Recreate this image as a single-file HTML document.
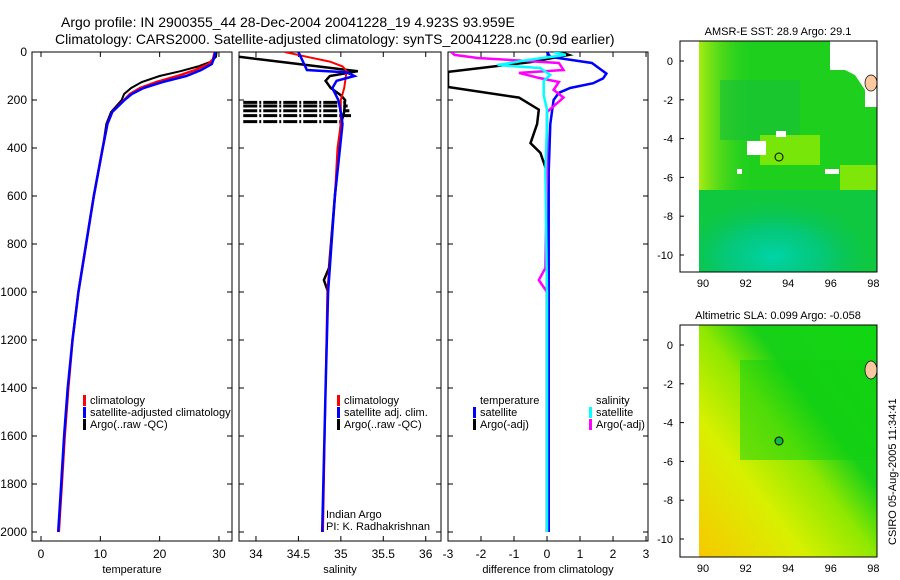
<!DOCTYPE html>
<html><head><meta charset="utf-8"><style>
body{margin:0;background:#fff;}
svg{display:block;font-family:"Liberation Sans",sans-serif;}
</style></head><body>
<svg id="c" width="900" height="580" viewBox="0 0 900 580">
<defs>
<radialGradient id="tealg" cx="0.42" cy="0.85" r="0.55"><stop offset="0" stop-color="#00d4a8"/><stop offset="0.5" stop-color="#00c890" stop-opacity="0.7"/><stop offset="1" stop-color="#00c060" stop-opacity="0"/></radialGradient>
<linearGradient id="leftg" x1="0" x2="1" y1="0" y2="0"><stop offset="0" stop-color="#a8ec10"/><stop offset="1" stop-color="#20d020" stop-opacity="0"/></linearGradient>
<linearGradient id="slag" x1="0" y1="1" x2="1" y2="0"><stop offset="0" stop-color="#f8c800"/><stop offset="0.3" stop-color="#d8f000"/><stop offset="0.5" stop-color="#90e800"/><stop offset="0.65" stop-color="#18d018"/><stop offset="1" stop-color="#10d810"/></linearGradient>
</defs>
<text x="61" y="27" font-size="14">Argo profile: IN 2900355_44 28-Dec-2004 20041228_19 4.923S 93.959E</text>
<text x="55" y="44" font-size="14">Climatology: CARS2000. Satellite-adjusted climatology: synTS_20041228.nc (0.9d earlier)</text>
<g id="g"></g>
<!-- top map -->
<g>
<rect x="699" y="41" width="178" height="231" fill="#1ecf1e"/>
<rect x="699" y="41" width="55" height="200" fill="url(#leftg)"/>
<rect x="699" y="190" width="178" height="82" fill="#10c840"/>
<rect x="699" y="170" width="178" height="102" fill="url(#tealg)"/>
<rect x="720" y="80" width="80" height="60" fill="#18c038" opacity="0.6"/>
<rect x="760" y="135" width="60" height="30" fill="#a0f000" opacity="0.7"/>
<rect x="840" y="165" width="37" height="25" fill="#a8f000" opacity="0.7"/>
<polygon points="830,41 877,41 877,107 865,107 865,90 855,75 845,70 830,70" fill="#fff"/>
<rect x="747" y="141" width="19" height="14" fill="#fff"/>
<rect x="776" y="131" width="10" height="6" fill="#fff"/>
<rect x="825" y="169" width="14" height="5" fill="#fff"/>
<rect x="737" y="169" width="5" height="5" fill="#fff"/>
<ellipse cx="871" cy="83" rx="6" ry="8" fill="#fcc8a0" stroke="#000" stroke-width="0.7"/>
<circle cx="779" cy="157" r="4" fill="none" stroke="#000"/>
<rect x="680" y="41" width="197" height="231" fill="none" stroke="#000"/>
<text x="778" y="35" font-size="11" text-anchor="middle">AMSR-E SST: 28.9 Argo: 29.1</text>
</g>
<!-- bottom map -->
<g>
<rect x="699" y="325" width="178" height="232" fill="url(#slag)"/>
<rect x="740" y="360" width="137" height="100" fill="#10d010" opacity="0.5"/>
<ellipse cx="871" cy="370" rx="6" ry="9" fill="#fcc8a0" stroke="#000" stroke-width="0.7"/>
<circle cx="779" cy="441" r="4" fill="#10b840" stroke="#000"/>
<rect x="680" y="325" width="197" height="232" fill="none" stroke="#000"/>
<text x="778" y="319" font-size="11" text-anchor="middle">Altimetric SLA: 0.099 Argo: -0.058</text>
<text transform="translate(896,545) rotate(-90)" font-size="11">CSIRO 05-Aug-2005 11:34:41</text>
</g>
</svg>
<script>
// ---- data ----
const depthTicks=[0,200,400,600,800,1000,1200,1400,1600,1800,2000];
const tempTicks=[0,10,20,30];
const salTicks=[34,34.5,35,35.5,36];
const salTickLabels=["34","34.5","35","35.5","36"];
const diffTicks=[-3,-2,-1,0,1,2,3];
const tClimDepth=[0,30,50,75,100,125,150,175,200,250,300,400,600,800,1000,1200,1400,1600,1800,2000];
const tClim=[29.3,29.0,28.2,26.0,23.0,19.5,16.7,15.0,14.0,12.0,11.2,10.4,8.9,7.6,6.3,5.3,4.6,4.0,3.5,3.0];
const tSat=[29.4,29.1,28.8,27.0,24.5,20.5,17.3,15.3,14.1,12.0,11.2,10.4,8.9,7.6,6.3,5.3,4.5,3.9,3.4,2.9];
const tArgoDepth=[0,20,40,60,80,100,125,150,175,200,250,300,400,600];
const tArgo=[29.6,29.5,28.7,26.5,23.5,20.0,17.0,15.2,14.0,13.6,11.8,11.0,10.4,8.9];
const sClimDepth=[0,20,40,60,80,100,150,200,300,400,600,1000,1400,2000];
const sClim=[34.34,34.6,34.87,35.02,35.07,35.06,35.04,35.0,35.0,34.96,34.93,34.84,34.82,34.79];
const sSatDepth=[0,30,60,75,85,100,120,150,200,250,300,400,600,1000,1400,2000];
const sSat=[34.5,34.54,34.58,34.6,35.07,35.16,34.95,34.9,34.97,35.0,35.02,34.99,34.93,34.85,34.82,34.78];
const sArgoDepth=[20,50,80,100,120,150,180,200,250,300,400,600,900,950,1000];
const sArgo=[33.8,34.5,35.2,34.87,34.82,34.88,35.0,35.05,35.04,35.0,34.98,34.93,34.86,34.8,34.85];
const spikeDepth=[210,225,245,265,290];
const spikeSal=[35.05,35.08,35.1,35.12,35.0];
const dDepth=[0,20,46,70,90,110,130,150,170,200,300,500,1000,2000];
const dTempSat=[0,0.1,1.36,1.6,1.8,1.7,1.4,0.7,0.36,0.2,0.1,0.05,0.05,0.05];
const dTempArgoDepth=[0,12,42,83,110,146,190,240,300,380,420,500,1000,2000];
const dTempArgo=[0.4,0.66,-0.5,-3,-3,-3,-0.85,-0.25,-0.3,-0.5,-0.2,0,0,0];
const dSalSatDepth=[0,12,33,54,67,96,120,180,240,300,500,1000,2000];
const dSalSat=[0.2,0.57,-0.55,-1.5,-0.2,0.1,-0.1,-0.1,0,0,-0.05,0,0];
const dSalArgoDepth=[0,12,25,46,75,87,108,125,158,190,250,500,900,950,1000,2000];
const dSalArgo=[-2.9,-2.8,-2.1,0.36,0.5,-0.85,-0.25,0.36,0.2,0.5,0,0,-0.05,-0.25,0,0];

const NS="http://www.w3.org/2000/svg";
const g=document.getElementById('g');
function el(t,a,p){const e=document.createElementNS(NS,t);for(const k in a)e.setAttribute(k,a[k]);(p||g).appendChild(e);return e;}
const yD=d=>52+d*0.24;
const panels=[
 {x0:32,x1:232,lo:-1.52,hi:32.2,ticks:tempTicks,labels:tempTicks.map(String),title:"temperature",name:"temperature-panel"},
 {x0:239,x1:441,lo:33.8,hi:36.18,ticks:salTicks,labels:salTickLabels,title:"salinity",name:"salinity-panel"},
 {x0:448,x1:648,lo:-3,hi:3.06,ticks:diffTicks,labels:diffTicks.map(String),title:"difference from climatology",name:"difference-panel"}];
panels.forEach((p,i)=>{
 p.sx=v=>p.x0+(v-p.lo)/(p.hi-p.lo)*(p.x1-p.x0);
 const pg=el('g',{});
 
 
 p.g=pg;
 const fr=el('rect',{x:p.x0,y:52,width:p.x1-p.x0,height:489,fill:'none',stroke:'#000','stroke-width':1},pg);
 
 
 p.ticks.forEach((t,j)=>{
  const x=p.sx(t);
  el('line',{x1:x,x2:x,y1:541,y2:536,stroke:'#000'},pg);
  el('line',{x1:x,x2:x,y1:52,y2:57,stroke:'#000'},pg);
  const tx=el('text',{x:x,y:558,'font-size':12,'text-anchor':'middle'},pg);
  tx.textContent=p.labels[j];
  
  
 });
 const tt=el('text',{x:(p.x0+p.x1)/2,y:573,'font-size':11,'text-anchor':'middle'},pg);
 tt.textContent=p.title;
 
 
 depthTicks.forEach(d=>{
  const y=yD(d);
  el('line',{x1:p.x0,x2:p.x0+5,y1:y,y2:y,stroke:'#000'},pg);
  el('line',{x1:p.x1,x2:p.x1-5,y1:y,y2:y,stroke:'#000'},pg);
  if(i==0){const t=el('text',{x:27,y:y+4,'font-size':12,'text-anchor':'end'},pg);t.textContent=d;
   
   }
 });
});
function series(p,dep,val,col,w,name){
 const cp='cp'+p.x0;
 if(!document.getElementById(cp)){const c=el('clipPath',{id:cp},p.g);el('rect',{x:p.x0,y:52,width:p.x1-p.x0,height:489},c);}
 const pts=dep.map((d,k)=>p.sx(val[k]).toFixed(1)+','+yD(d).toFixed(1)).join(' ');
 const l=el('polyline',{points:pts,fill:'none',stroke:col,'stroke-width':w,'clip-path':'url(#'+cp+')'},p.g);
 
 
}
const [P1,P2,P3]=panels;
series(P1,tArgoDepth,tArgo,'#000',2,'temp-argo-line');
series(P1,tClimDepth,tClim,'#f00',2.5,'temp-climatology-line');
series(P1,tClimDepth,tSat,'#00f',2.5,'temp-satellite-line');
spikeDepth.forEach((d,k)=>{
 const s=el('line',{x1:P2.sx(33.85),x2:P2.sx(spikeSal[k]),y1:yD(d),y2:yD(d),stroke:'#000','stroke-width':3,'stroke-dasharray':'14 2 2 2'},P2.g);
 
 
});
series(P2,sArgoDepth,sArgo,'#000',2.5,'sal-argo-line');
series(P2,sClimDepth,sClim,'#f00',2,'sal-climatology-line');
series(P2,sSatDepth,sSat,'#00f',2.5,'sal-satellite-line');
series(P3,dTempArgoDepth,dTempArgo,'#000',2.5,'diff-temp-argo-line');
series(P3,dDepth,dTempSat,'#00f',2.5,'diff-temp-satellite-line');
series(P3,dSalArgoDepth,dSalArgo,'#f0f',2.5,'diff-sal-argo-line');
series(P3,dSalSatDepth,dSalSat,'#0ff',2.5,'diff-sal-satellite-line');
function legend(x,y,items,name){
 items.forEach((it,k)=>{
  if(it[1]){const m=el('rect',{x:x,y:y+k*12-9,width:3,height:11,fill:it[1]});
   
   }
  const t=el('text',{x:x+7,y:y+k*12,'font-size':11});t.textContent=it[0];
  
  
 });
}
legend(83,404,[["climatology","#f00"],["satellite-adjusted climatology","#00f"],["Argo(..raw -QC)","#000"]],'temp-legend-entry');
legend(337,404,[["climatology","#f00"],["satellite adj. clim.","#00f"],["Argo(..raw -QC)","#000"]],'sal-legend-entry');
legend(473,404,[["temperature",null],["satellite","#00f"],["Argo(-adj)","#000"]],'diff-temp-legend-entry');
legend(589,404,[["salinity",null],["satellite","#0ff"],["Argo(-adj)","#f0f"]],'diff-sal-legend-entry');
const c1=el('text',{x:326,y:518,'font-size':11});c1.textContent="Indian Argo";


const c2=el('text',{x:326,y:530,'font-size':11});c2.textContent="PI: K. Radhakrishnan";


// map axes
const mapLon=[90,92,94,96,98];
const mapLat=[0,-2,-4,-6,-8,-10];
[[41,272,61],[325,557,345]].forEach(([top,bot,y0],m)=>{
 mapLon.forEach(lo=>{const x=703+(lo-90)*21.3;
  el('line',{x1:x,x2:x,y1:bot,y2:bot-4,stroke:'#000'});el('line',{x1:x,x2:x,y1:top,y2:top+4,stroke:'#000'});
  const t=el('text',{x:x,y:bot+15,'font-size':11,'text-anchor':'middle'});t.textContent=lo;
  
  });
 mapLat.forEach(la=>{const y=y0-la*19.4;
  el('line',{x1:680,x2:684,y1:y,y2:y,stroke:'#000'});el('line',{x1:877,x2:873,y1:y,y2:y,stroke:'#000'});
  const t=el('text',{x:673,y:y+4,'font-size':11,'text-anchor':'end'});t.textContent=la;
  
  });
});
</script>
</body></html>
